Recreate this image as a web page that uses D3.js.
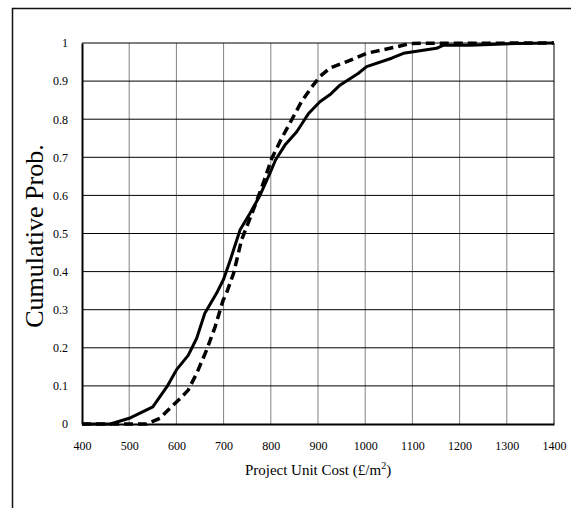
<!DOCTYPE html>
<html>
<head>
<meta charset="utf-8">
<script src="https://cdn.jsdelivr.net/npm/d3@7"></script>
<style>
  body { margin: 0; background: #fff; }
  svg { display: block; font-family: "Liberation Serif", "Times New Roman", serif; }
</style>
</head>
<body>
<svg id="canvas" width="571" height="508"></svg>
<script>
// x ticks (project unit cost) and y ticks (cumulative probability)
const costTicks = [400, 500, 600, 700, 800, 900, 1000, 1100, 1200, 1300, 1400]
const probTicks = [0, 0.1, 0.2, 0.3, 0.4, 0.5, 0.6, 0.7, 0.8, 0.9, 1]

// solid curve
const solidCost = [400, 460, 500, 550, 580, 600, 625, 643, 660, 685, 700, 714, 735, 756, 777, 798, 810, 830, 855, 880, 904, 925, 947, 985, 1003, 1056, 1081, 1102, 1151, 1165, 1222, 1321, 1400]
const solidProb = [0, 0, 0.015, 0.045, 0.098, 0.142, 0.18, 0.225, 0.29, 0.343, 0.38, 0.43, 0.51, 0.553, 0.6, 0.658, 0.693, 0.732, 0.767, 0.815, 0.846, 0.864, 0.89, 0.92, 0.938, 0.96, 0.973, 0.977, 0.986, 0.994, 0.994, 0.999, 1]

// dashed curve
const dashedCost = [400, 537, 565, 586, 608, 625, 643, 664, 682, 699, 706, 721, 738, 763, 784, 802, 823, 844, 865, 887, 904, 925, 961, 1003, 1067, 1095, 1400]
const dashedProb = [0, 0, 0.015, 0.041, 0.067, 0.089, 0.133, 0.194, 0.255, 0.325, 0.343, 0.395, 0.483, 0.562, 0.632, 0.697, 0.75, 0.798, 0.846, 0.885, 0.912, 0.934, 0.951, 0.973, 0.99, 0.999, 1]

const canvas = d3.select('#canvas')

const plotLeft = 82, plotRight = 554, plotTop = 43, plotBottom = 424

// outer chart frame (runs off the right and bottom edges)
canvas.append('rect')
  .attr('x', 12.5).attr('y', 8.5)
  .attr('width', 600).attr('height', 600)
  .attr('fill', 'none')
  .attr('stroke', '#111')
  .attr('stroke-width', 1.5)

const xScale = d3.scaleLinear().domain([400, 1400]).range([plotLeft, plotRight])
const yScale = d3.scaleLinear().domain([0, 1]).range([plotBottom, plotTop])

// vertical grid (grey)
canvas.append('g')
  .selectAll('line')
  .data(costTicks.slice(1))
  .enter()
  .append('line')
  .attr('x1', d => xScale(d)).attr('x2', d => xScale(d))
  .attr('y1', plotTop).attr('y2', plotBottom)
  .attr('stroke', '#808080')
  .attr('stroke-width', d => d === 1400 ? 2 : 1)

// horizontal grid (black)
canvas.append('g')
  .selectAll('line')
  .data(probTicks.slice(1))
  .enter()
  .append('line')
  .attr('x1', plotLeft).attr('x2', plotRight)
  .attr('y1', d => yScale(d)).attr('y2', d => yScale(d))
  .attr('stroke', '#000')
  .attr('stroke-width', 1)

// axes
const xAxis = d3.axisBottom(xScale).tickValues(costTicks).tickSize(0).tickPadding(17).tickFormat(d3.format('d'))
const yAxis = d3.axisLeft(yScale).tickValues(probTicks).tickSize(0).tickPadding(14).tickFormat(d => d === 0 || d === 1 ? d : d3.format('.1f')(d))

canvas.append('g')
  .attr('id', 'x-axis')
  .attr('transform', `translate(0, ${plotBottom})`)
  .call(xAxis)
  .call(g => g.select('.domain').attr('stroke', '#000').attr('stroke-width', 2))
  .call(g => g.selectAll('text').attr('font-size', 12).attr('fill', '#000').attr('font-family', 'Liberation Serif'))

canvas.append('g')
  .attr('id', 'y-axis')
  .attr('transform', `translate(${plotLeft}, 0)`)
  .call(yAxis)
  .call(g => g.select('.domain').attr('stroke', '#000').attr('stroke-width', 2))
  .call(g => g.selectAll('text').attr('font-size', 12).attr('fill', '#000').attr('font-family', 'Liberation Serif'))

const line = d3.line()
  .x(d => xScale(d[0]))
  .y(d => yScale(d[1]))

canvas.append('path')
  .datum(solidCost.map((c, i) => [c, solidProb[i]]))
  .attr('d', line)
  .attr('fill', 'none')
  .attr('stroke', '#000')
  .attr('stroke-width', 3)
  .attr('stroke-linejoin', 'round')

canvas.append('path')
  .datum(dashedCost.map((c, i) => [c, dashedProb[i]]))
  .attr('d', line)
  .attr('fill', 'none')
  .attr('stroke', '#000')
  .attr('stroke-width', 3.5)
  .attr('stroke-dasharray', '9,5')

// axis titles
canvas.append('text')
  .attr('x', 318).attr('y', 475)
  .attr('text-anchor', 'middle')
  .attr('font-size', 15)
  .attr('fill', '#000')
  .html('Project Unit Cost (£/m<tspan dy="-6" font-size="10">2</tspan><tspan dy="6">)</tspan>')

canvas.append('text')
  .attr('transform', 'translate(43, 236) rotate(-90)')
  .attr('text-anchor', 'middle')
  .attr('font-size', 26)
  .attr('fill', '#000')
  .text('Cumulative Prob.')
</script>
</body>
</html>
